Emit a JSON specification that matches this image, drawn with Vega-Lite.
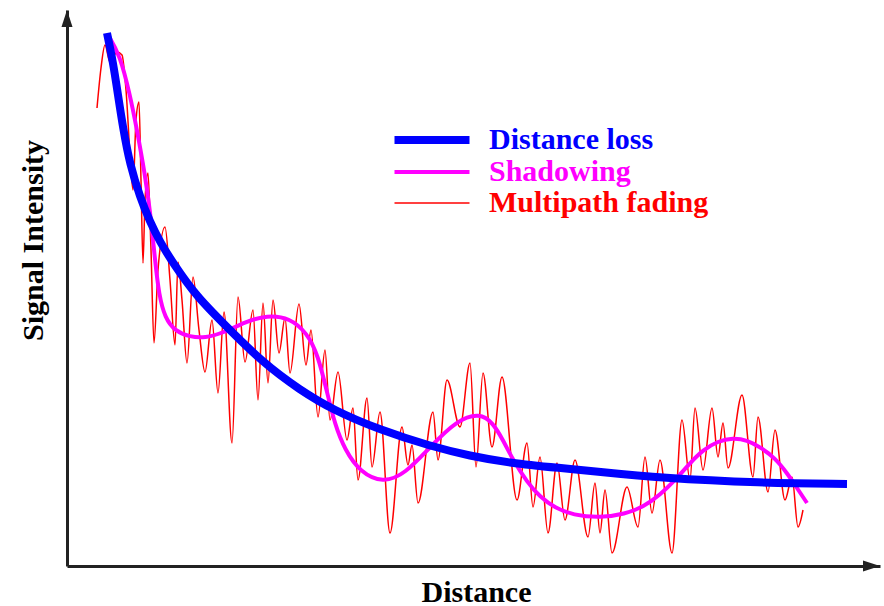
{
  "$schema": "https://vega.github.io/schema/vega-lite/v6.json",
  "width": 813,
  "height": 556,
  "autosize": {"type": "none"},
  "padding": {"left": 67, "top": 10, "right": 4, "bottom": 40},
  "background": "white",
  "config": {"view": {"stroke": null}, "font": "Liberation Serif"},
  "datasets": {
    "curves": [
      {"series": "Distance loss", "d": 42, "s": 532}, {"series": "Distance loss", "d": 48, "s": 503}, {"series": "Distance loss", "d": 53, "s": 470}, {"series": "Distance loss", "d": 58, "s": 437}, {"series": "Distance loss", "d": 65, "s": 400}, {"series": "Distance loss", "d": 75, "s": 368}, {"series": "Distance loss", "d": 85, "s": 343}, {"series": "Distance loss", "d": 95, "s": 323}, {"series": "Distance loss", "d": 108, "s": 302}, {"series": "Distance loss", "d": 132, "s": 268}, {"series": "Distance loss", "d": 158, "s": 242}, {"series": "Distance loss", "d": 198, "s": 202}, {"series": "Distance loss", "d": 235, "s": 175}, {"series": "Distance loss", "d": 268, "s": 155}, {"series": "Distance loss", "d": 315, "s": 135}, {"series": "Distance loss", "d": 365, "s": 119}, {"series": "Distance loss", "d": 405, "s": 109}, {"series": "Distance loss", "d": 445, "s": 102}, {"series": "Distance loss", "d": 495, "s": 97}, {"series": "Distance loss", "d": 535, "s": 93}, {"series": "Distance loss", "d": 595, "s": 87}, {"series": "Distance loss", "d": 695, "s": 82}, {"series": "Distance loss", "d": 782, "s": 81},
      {"series": "Shadowing", "d": 43, "s": 530}, {"series": "Shadowing", "d": 55, "s": 510}, {"series": "Shadowing", "d": 65, "s": 470}, {"series": "Shadowing", "d": 72, "s": 435}, {"series": "Shadowing", "d": 80, "s": 390}, {"series": "Shadowing", "d": 85, "s": 355}, {"series": "Shadowing", "d": 90, "s": 305}, {"series": "Shadowing", "d": 94, "s": 270}, {"series": "Shadowing", "d": 100, "s": 247}, {"series": "Shadowing", "d": 110, "s": 234}, {"series": "Shadowing", "d": 125, "s": 228}, {"series": "Shadowing", "d": 140, "s": 227}, {"series": "Shadowing", "d": 158, "s": 232}, {"series": "Shadowing", "d": 180, "s": 243}, {"series": "Shadowing", "d": 202, "s": 250}, {"series": "Shadowing", "d": 225, "s": 247}, {"series": "Shadowing", "d": 242, "s": 232}, {"series": "Shadowing", "d": 253, "s": 210}, {"series": "Shadowing", "d": 262, "s": 173}, {"series": "Shadowing", "d": 270, "s": 140}, {"series": "Shadowing", "d": 280, "s": 115}, {"series": "Shadowing", "d": 295, "s": 93}, {"series": "Shadowing", "d": 318, "s": 82}, {"series": "Shadowing", "d": 340, "s": 91}, {"series": "Shadowing", "d": 365, "s": 118}, {"series": "Shadowing", "d": 392, "s": 145}, {"series": "Shadowing", "d": 415, "s": 152}, {"series": "Shadowing", "d": 428, "s": 142}, {"series": "Shadowing", "d": 438, "s": 125}, {"series": "Shadowing", "d": 448, "s": 105}, {"series": "Shadowing", "d": 462, "s": 83}, {"series": "Shadowing", "d": 475, "s": 68}, {"series": "Shadowing", "d": 490, "s": 57}, {"series": "Shadowing", "d": 508, "s": 50}, {"series": "Shadowing", "d": 535, "s": 47}, {"series": "Shadowing", "d": 560, "s": 51}, {"series": "Shadowing", "d": 578, "s": 58}, {"series": "Shadowing", "d": 595, "s": 70}, {"series": "Shadowing", "d": 612, "s": 87}, {"series": "Shadowing", "d": 625, "s": 102}, {"series": "Shadowing", "d": 638, "s": 115}, {"series": "Shadowing", "d": 653, "s": 124}, {"series": "Shadowing", "d": 668, "s": 127}, {"series": "Shadowing", "d": 682, "s": 125}, {"series": "Shadowing", "d": 695, "s": 118}, {"series": "Shadowing", "d": 710, "s": 107}, {"series": "Shadowing", "d": 722, "s": 92}, {"series": "Shadowing", "d": 732, "s": 77}, {"series": "Shadowing", "d": 742, "s": 62},
      {"series": "Multipath fading", "d": 32, "s": 457}, {"series": "Multipath fading", "d": 36, "s": 497}, {"series": "Multipath fading", "d": 40, "s": 520}, {"series": "Multipath fading", "d": 45, "s": 503}, {"series": "Multipath fading", "d": 52, "s": 513}, {"series": "Multipath fading", "d": 57, "s": 510}, {"series": "Multipath fading", "d": 61, "s": 475}, {"series": "Multipath fading", "d": 66, "s": 395}, {"series": "Multipath fading", "d": 68, "s": 375}, {"series": "Multipath fading", "d": 71, "s": 445}, {"series": "Multipath fading", "d": 74, "s": 463}, {"series": "Multipath fading", "d": 76, "s": 385}, {"series": "Multipath fading", "d": 78, "s": 302}, {"series": "Multipath fading", "d": 80, "s": 365}, {"series": "Multipath fading", "d": 83, "s": 392}, {"series": "Multipath fading", "d": 86, "s": 315}, {"series": "Multipath fading", "d": 89, "s": 222}, {"series": "Multipath fading", "d": 93, "s": 295}, {"series": "Multipath fading", "d": 100, "s": 338}, {"series": "Multipath fading", "d": 105, "s": 285}, {"series": "Multipath fading", "d": 110, "s": 220}, {"series": "Multipath fading", "d": 113, "s": 303}, {"series": "Multipath fading", "d": 117, "s": 265}, {"series": "Multipath fading", "d": 122, "s": 202}, {"series": "Multipath fading", "d": 128, "s": 288}, {"series": "Multipath fading", "d": 134, "s": 235}, {"series": "Multipath fading", "d": 140, "s": 193}, {"series": "Multipath fading", "d": 147, "s": 245}, {"series": "Multipath fading", "d": 153, "s": 172}, {"series": "Multipath fading", "d": 159, "s": 253}, {"series": "Multipath fading", "d": 167, "s": 122}, {"series": "Multipath fading", "d": 173, "s": 268}, {"series": "Multipath fading", "d": 180, "s": 203}, {"series": "Multipath fading", "d": 188, "s": 255}, {"series": "Multipath fading", "d": 193, "s": 165}, {"series": "Multipath fading", "d": 198, "s": 262}, {"series": "Multipath fading", "d": 203, "s": 182}, {"series": "Multipath fading", "d": 208, "s": 265}, {"series": "Multipath fading", "d": 214, "s": 212}, {"series": "Multipath fading", "d": 220, "s": 247}, {"series": "Multipath fading", "d": 225, "s": 192}, {"series": "Multipath fading", "d": 234, "s": 261}, {"series": "Multipath fading", "d": 241, "s": 200}, {"series": "Multipath fading", "d": 246, "s": 235}, {"series": "Multipath fading", "d": 253, "s": 148}, {"series": "Multipath fading", "d": 260, "s": 215}, {"series": "Multipath fading", "d": 265, "s": 145}, {"series": "Multipath fading", "d": 273, "s": 193}, {"series": "Multipath fading", "d": 282, "s": 125}, {"series": "Multipath fading", "d": 288, "s": 157}, {"series": "Multipath fading", "d": 293, "s": 85}, {"series": "Multipath fading", "d": 302, "s": 167}, {"series": "Multipath fading", "d": 307, "s": 98}, {"series": "Multipath fading", "d": 315, "s": 153}, {"series": "Multipath fading", "d": 325, "s": 32}, {"series": "Multipath fading", "d": 337, "s": 138}, {"series": "Multipath fading", "d": 343, "s": 100}, {"series": "Multipath fading", "d": 347, "s": 120}, {"series": "Multipath fading", "d": 353, "s": 62}, {"series": "Multipath fading", "d": 368, "s": 153}, {"series": "Multipath fading", "d": 373, "s": 105}, {"series": "Multipath fading", "d": 382, "s": 185}, {"series": "Multipath fading", "d": 395, "s": 138}, {"series": "Multipath fading", "d": 405, "s": 202}, {"series": "Multipath fading", "d": 411, "s": 98}, {"series": "Multipath fading", "d": 418, "s": 192}, {"series": "Multipath fading", "d": 427, "s": 118}, {"series": "Multipath fading", "d": 437, "s": 188}, {"series": "Multipath fading", "d": 452, "s": 65}, {"series": "Multipath fading", "d": 462, "s": 122}, {"series": "Multipath fading", "d": 468, "s": 58}, {"series": "Multipath fading", "d": 475, "s": 108}, {"series": "Multipath fading", "d": 483, "s": 32}, {"series": "Multipath fading", "d": 492, "s": 102}, {"series": "Multipath fading", "d": 500, "s": 45}, {"series": "Multipath fading", "d": 510, "s": 105}, {"series": "Multipath fading", "d": 523, "s": 28}, {"series": "Multipath fading", "d": 530, "s": 82}, {"series": "Multipath fading", "d": 535, "s": 32}, {"series": "Multipath fading", "d": 540, "s": 75}, {"series": "Multipath fading", "d": 547, "s": 12}, {"series": "Multipath fading", "d": 562, "s": 78}, {"series": "Multipath fading", "d": 573, "s": 38}, {"series": "Multipath fading", "d": 580, "s": 108}, {"series": "Multipath fading", "d": 587, "s": 52}, {"series": "Multipath fading", "d": 595, "s": 105}, {"series": "Multipath fading", "d": 607, "s": 12}, {"series": "Multipath fading", "d": 617, "s": 145}, {"series": "Multipath fading", "d": 625, "s": 85}, {"series": "Multipath fading", "d": 630, "s": 157}, {"series": "Multipath fading", "d": 638, "s": 95}, {"series": "Multipath fading", "d": 647, "s": 157}, {"series": "Multipath fading", "d": 653, "s": 108}, {"series": "Multipath fading", "d": 658, "s": 142}, {"series": "Multipath fading", "d": 663, "s": 97}, {"series": "Multipath fading", "d": 677, "s": 170}, {"series": "Multipath fading", "d": 688, "s": 88}, {"series": "Multipath fading", "d": 693, "s": 148}, {"series": "Multipath fading", "d": 703, "s": 73}, {"series": "Multipath fading", "d": 710, "s": 135}, {"series": "Multipath fading", "d": 720, "s": 65}, {"series": "Multipath fading", "d": 727, "s": 88}, {"series": "Multipath fading", "d": 733, "s": 38}, {"series": "Multipath fading", "d": 738, "s": 55}
    ],
    "one": [{"k": 1}]
  },
  "layer": [
    {
      "data": {"name": "curves"},
      "transform": [{"filter": "datum.series === 'Multipath fading'"}],
      "mark": {"type": "line", "strokeWidth": 1.5, "interpolate": "monotone"},
      "encoding": {
        "x": {"field": "d", "type": "quantitative", "scale": {"domain": [2, 815], "nice": false, "zero": false},
          "axis": {"title": "Distance", "domainColor": "#222", "domainWidth": 3, "ticks": false, "labels": false, "grid": false,
            "titleFont": "Liberation Serif", "titleFontSize": 30, "titleFontWeight": "bold", "titleColor": "black",
            "titleX": 409, "titleY": 35, "titleBaseline": "alphabetic", "titleAlign": "center"}},
        "y": {"field": "s", "type": "quantitative", "scale": {"domain": [-1, 555], "nice": false, "zero": false},
          "axis": {"title": "Signal Intensity", "domainColor": "#222", "domainWidth": 3, "ticks": false, "labels": false, "grid": false,
            "titleFont": "Liberation Serif", "titleFontSize": 30, "titleFontWeight": "bold", "titleColor": "black",
            "titleX": -34, "titleY": 230, "titleAngle": -90, "titleBaseline": "middle", "titleAlign": "center"}},
        "color": {"field": "series", "type": "nominal",
          "scale": {"domain": ["Distance loss", "Shadowing", "Multipath fading"], "range": ["#0000ff", "#ff00ff", "#ff0000"]},
          "legend": {"title": null, "orient": "none", "legendX": 350, "legendY": 115, "padding": 0,
            "symbolType": "M-5,0H5", "symbolSize": 225, "labelOffset": 42, "rowPadding": 1, "labelLimit": 0,
            "labelFont": "Liberation Serif", "labelFontSize": 30, "labelFontWeight": "bold",
            "encode": {
              "symbols": {"update": {"strokeWidth": {"signal": "datum.value === 'Distance loss' ? 8 : datum.value === 'Shadowing' ? 4 : 1.5"}}},
              "labels": {"update": {"fill": {"scale": "color", "field": "value"}}}
            }}}
      }
    },
    {
      "data": {"name": "curves"},
      "transform": [{"filter": "datum.series === 'Shadowing'"}],
      "mark": {"type": "line", "strokeWidth": 4, "interpolate": "basis"},
      "encoding": {
        "x": {"field": "d", "type": "quantitative"},
        "y": {"field": "s", "type": "quantitative"},
        "color": {"field": "series", "type": "nominal"}
      }
    },
    {
      "data": {"name": "curves"},
      "transform": [{"filter": "datum.series === 'Distance loss'"}],
      "mark": {"type": "line", "strokeWidth": 8, "interpolate": "basis"},
      "encoding": {
        "x": {"field": "d", "type": "quantitative"},
        "y": {"field": "s", "type": "quantitative"},
        "color": {"field": "series", "type": "nominal"}
      }
    },
    {
      "data": {"name": "one"},
      "mark": {"type": "point", "shape": "M0,-1L-0.65,1L0.65,1Z", "filled": true, "color": "#222", "size": 289, "opacity": 1},
      "encoding": {"x": {"datum": 2}, "y": {"datum": 546.5}}
    },
    {
      "data": {"name": "one"},
      "mark": {"type": "point", "shape": "M1,0L-1,-0.65L-1,0.65Z", "filled": true, "color": "#222", "size": 289, "opacity": 1},
      "encoding": {"x": {"datum": 806.5}, "y": {"datum": -1}}
    }
  ]
}
